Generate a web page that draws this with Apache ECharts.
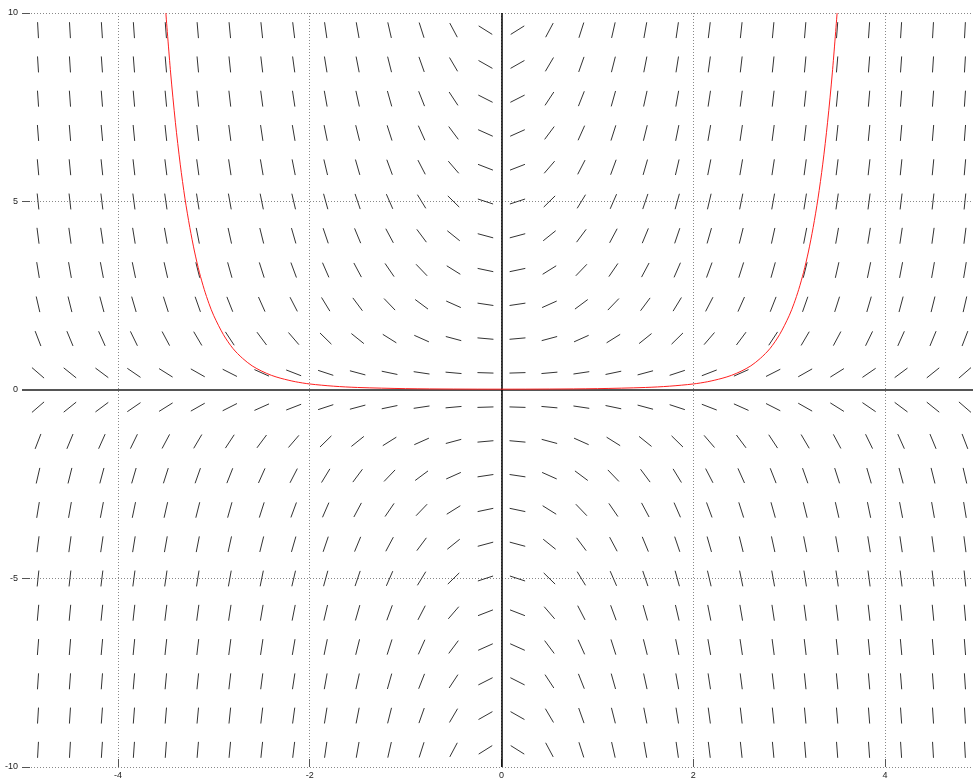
<!DOCTYPE html>
<html>
<head>
<meta charset="utf-8">
<script src="https://cdn.jsdelivr.net/npm/echarts@6/dist/echarts.min.js"></script>
<style>html,body{margin:0;padding:0;background:#fff;}#c{width:973px;height:780px;}</style>
</head>
<body>
<div id="c"></div>
<script>
// Tick values
const xTicks = [-4, -2, 0, 2, 4];
const yTicks = [-10, -5, 0, 5, 10];

// Direction-field sample grid (cell centres)
const fieldX = [-4.833, -4.5, -4.167, -3.833, -3.5, -3.167, -2.833, -2.5, -2.167, -1.833,
  -1.5, -1.167, -0.833, -0.5, -0.167, 0.167, 0.5, 0.833, 1.167, 1.5,
  1.833, 2.167, 2.5, 2.833, 3.167, 3.5, 3.833, 4.167, 4.5, 4.833];
const fieldY = [-9.545, -8.636, -7.727, -6.818, -5.909, -5.0, -4.091, -3.182, -2.273, -1.364, -0.455,
  0.455, 1.364, 2.273, 3.182, 4.091, 5.0, 5.909, 6.818, 7.727, 8.636, 9.545];

// Differential equation shown by the field: dy/dx = x * y
const fieldSlope = (x, y) => x * y;

// Red solution curve
const curveX = [-3.5, -3.45, -3.4, -3.35, -3.3, -3.25, -3.2, -3.15, -3.1, -3.05, -3.0, -2.9, -2.8, -2.7, -2.6, -2.5, -2.4, -2.3, -2.15, -2.0, -1.75, -1.5, -1.0, -0.5, 0,
  0.5, 1.0, 1.5, 1.75, 2.0, 2.15, 2.3, 2.4, 2.5, 2.6, 2.7, 2.8, 2.9, 3.0, 3.05, 3.1, 3.15, 3.2, 3.25, 3.3, 3.35, 3.4, 3.45, 3.5];
const curveY = [10.0, 8.41, 7.09, 5.99, 5.07, 4.31, 3.66, 3.12, 2.67, 2.29, 1.97, 1.47, 1.10, 0.84, 0.64, 0.50, 0.39, 0.31, 0.22, 0.16, 0.101, 0.067, 0.036, 0.025, 0.022,
  0.025, 0.036, 0.067, 0.101, 0.16, 0.22, 0.31, 0.39, 0.50, 0.64, 0.84, 1.10, 1.47, 1.97, 2.29, 2.67, 3.12, 3.66, 4.31, 5.07, 5.99, 7.09, 8.41, 10.0];

const fieldData = [];
fieldX.forEach(x => fieldY.forEach(y => fieldData.push([x, y, fieldSlope(x, y)])));
const curveData = curveX.map((x, i) => [x, curveY[i]]);

const SEG = 16;
const chart = echarts.init(document.getElementById('c'), null, {renderer: 'canvas'});
chart.setOption({
  animation: false,
  backgroundColor: '#fff',
  grid: {left: 22, right: 0, top: 13, bottom: 9, containLabel: false},
  xAxis: {
    type: 'value', min: -5, max: 4.917,
    axisLine: {show: false, onZero: false},
    axisTick: {show: true, inside: true, length: 8, customValues: xTicks, lineStyle: {color: '#555'}},
    axisLabel: {customValues: xTicks, fontSize: 9, color: '#222', margin: 4, fontFamily: 'Liberation Sans'},
    splitLine: {show: true, lineStyle: {color: '#888', width: 1, type: [1, 2]}}
  },
  yAxis: {
    type: 'value', min: -10, max: 10, interval: 5,
    axisLine: {show: false, onZero: false},
    axisTick: {show: true, inside: true, length: 8, customValues: yTicks, lineStyle: {color: '#555'}},
    axisLabel: {customValues: yTicks, fontSize: 9, color: '#222', margin: 4, fontFamily: 'Liberation Sans'},
    splitLine: {show: true, lineStyle: {color: '#888', width: 1, type: [1, 2]}}
  },
  series: [
    {
      type: 'custom',
      z: 2,
      silent: true,
      data: fieldData,
      renderItem: function (params, api) {
        const x = api.value(0), y = api.value(1), m = api.value(2);
        const c = api.coord([x, y]);
        const s = api.size([1, 1]);
        let dx = s[0], dy = -m * s[1];
        const len = Math.sqrt(dx * dx + dy * dy);
        dx = dx / len * SEG / 2; dy = dy / len * SEG / 2;
        return {
          type: 'line',
          shape: {x1: c[0] - dx, y1: c[1] - dy, x2: c[0] + dx, y2: c[1] + dy},
          style: {stroke: '#333', lineWidth: 1}
        };
      },
      markLine: {
        silent: true,
        symbol: 'none',
        label: {show: false},
        animation: false,
        data: [
          {yAxis: 0, lineStyle: {color: '#555', width: 2, type: 'solid'}},
          {xAxis: 0, lineStyle: {color: '#000', width: 1.5, type: 'solid'}}
        ]
      }
    },
    {
      type: 'line',
      z: 5,
      data: curveData,
      showSymbol: false,
      smooth: 0.3,
      clip: true,
      lineStyle: {color: '#ff2020', width: 1}
    }
  ]
});
</script>
</body>
</html>
